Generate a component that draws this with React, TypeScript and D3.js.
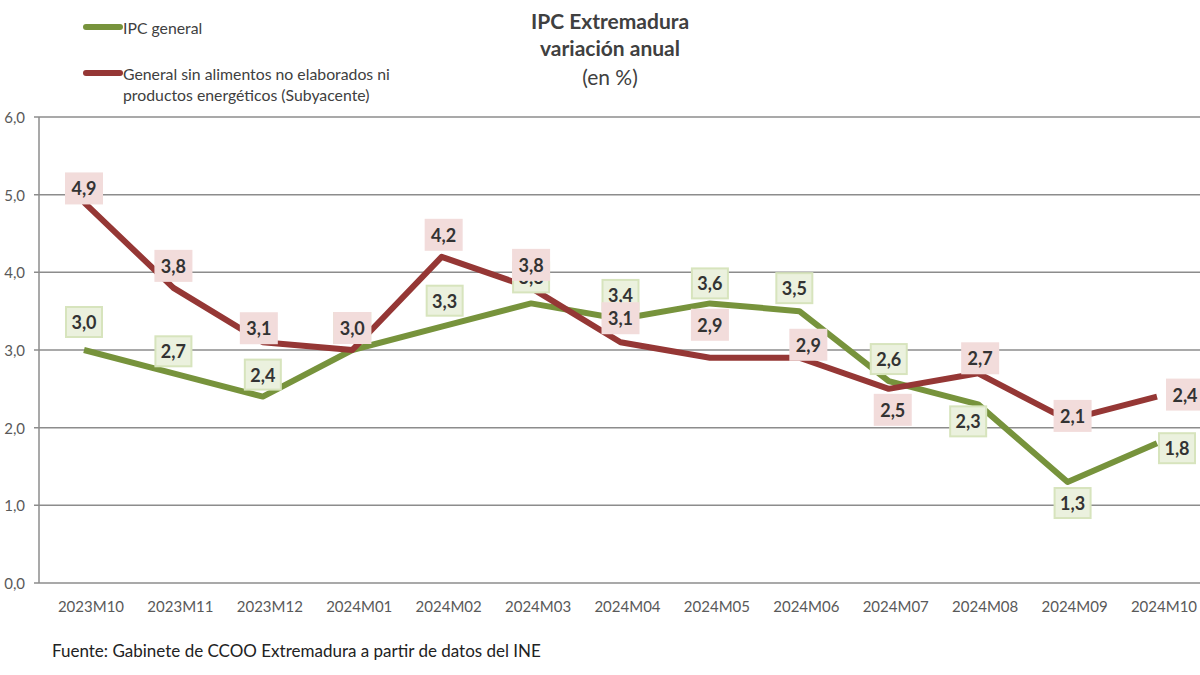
import React from 'react';
import * as d3 from 'd3';

const categories = ['2023M10', '2023M11', '2023M12', '2024M01', '2024M02', '2024M03', '2024M04', '2024M05', '2024M06', '2024M07', '2024M08', '2024M09', '2024M10'];
const ipcGeneral = [3.0, 2.7, 2.4, 3.0, 3.3, 3.6, 3.4, 3.6, 3.5, 2.6, 2.3, 1.3, 1.8];
const subyacente = [4.9, 3.8, 3.1, 3.0, 4.2, 3.8, 3.1, 2.9, 2.9, 2.5, 2.7, 2.1, 2.4];
const yTicks = [0, 1, 2, 3, 4, 5, 6];

// label placement (dx, dy from the point), layout only
const greenLabelOffset: [number, number][] = [[0, -28], [0, -22], [0, -22], [0, -22], [3, -26], [0, -26], [0, -24], [0, -20], [-5, -23], [0, -22], [-10, 17], [5, 21], [20, 5]];
const redLabelOffset: [number, number][] = [[0, -14], [0, -22], [-4, -14], [0, -22], [2, -22], [0, -23], [0, -24], [0, -33], [9, -13], [4, 21], [2, -15], [5, -4], [28, -2]];

const GREEN = '#77933c';
const RED = '#953735';
const FONT = 'Lato, "Open Sans", sans-serif';

const fmt = (v: number) => d3.format('.1f')(v).replace('.', ',');

export default function App() {
  const x = d3.scalePoint<string>().domain(categories).range([84, 1157]);
  const y = d3.scaleLinear().domain([0, 6]).range([583, 117]);
  const left = 39;
  const right = 1200;

  const line = d3
    .line<number>()
    .x((_, i) => x(categories[i]) as number)
    .y((d) => y(d));

  const labels = (vals: number[], offs: [number, number][], fill: string, stroke: string) =>
    vals.map((v, i) => {
      const cx = (x(categories[i]) as number) + offs[i][0];
      const cy = y(v) + offs[i][1];
      return (
        <g key={i}>
          <rect x={cx - 18} y={cy - 15} width={36} height={30} fill={fill} stroke={stroke} strokeWidth={2} />
          <text x={cx} y={cy} textAnchor="middle" dominantBaseline="central" fontFamily={FONT} fontWeight={700} fontSize={18} fill="#333">
            {fmt(v)}
          </text>
        </g>
      );
    });

  return (
    <svg width={1200} height={675} style={{ position: 'absolute', left: 0, top: 0, background: '#fff' }}>
      <rect width={1200} height={675} fill="#fff" />
      {/* title */}
      <text x={610} y={29} textAnchor="middle" fontFamily={FONT} fontWeight={700} fontSize={21} fill="#404040">IPC Extremadura</text>
      <text x={610} y={56} textAnchor="middle" fontFamily={FONT} fontWeight={700} fontSize={21} fill="#404040">variación anual</text>
      <text x={610} y={85} textAnchor="middle" fontFamily={FONT} fontSize={21} fill="#404040">(en %)</text>

      {/* legend */}
      <line x1={86} x2={120} y1={27} y2={27} stroke={GREEN} strokeWidth={6} strokeLinecap="round" />
      <text x={123} y={27} dominantBaseline="central" fontFamily={FONT} fontSize={15.8} fill="#404040">IPC general</text>
      <line x1={86} x2={120} y1={73} y2={73} stroke={RED} strokeWidth={6} strokeLinecap="round" />
      <text x={123} y={73} dominantBaseline="central" fontFamily={FONT} fontSize={15.8} fill="#404040">General sin alimentos no elaborados ni</text>
      <text x={123} y={94} dominantBaseline="central" fontFamily={FONT} fontSize={15.8} fill="#404040">productos energéticos (Subyacente)</text>

      {/* grid */}
      {yTicks.map((t) => (
        <g key={t}>
          <line x1={left - 5} x2={right} y1={y(t)} y2={y(t)} stroke="#8c8c8c" strokeWidth={1.5} />
          <text x={25} y={y(t)} textAnchor="end" dominantBaseline="central" fontFamily={FONT} fontSize={15} fill="#595959">{fmt(t)}</text>
        </g>
      ))}
      <line x1={left} x2={left} y1={y(6)} y2={y(0)} stroke="#8c8c8c" strokeWidth={1.5} />

      {categories.map((c) => (
        <text key={c} x={(x(c) as number) + 7} y={606} textAnchor="middle" dominantBaseline="central" fontFamily={FONT} fontSize={15} fill="#595959">{c}</text>
      ))}

      {/* lines */}
      <path d={line(ipcGeneral) as string} fill="none" stroke={GREEN} strokeWidth={6} strokeLinejoin="round" />
      <path d={line(subyacente) as string} fill="none" stroke={RED} strokeWidth={6} strokeLinejoin="round" />

      {labels(ipcGeneral, greenLabelOffset, '#ebf1de', '#d7e4bd')}
      {labels(subyacente, redLabelOffset, '#f2dcdb', '#f2dcdb')}

      <text x={52} y={650} dominantBaseline="central" fontFamily={FONT} fontSize={17} fill="#222">Fuente: Gabinete de CCOO Extremadura a partir de datos del INE</text>
    </svg>
  );
}
